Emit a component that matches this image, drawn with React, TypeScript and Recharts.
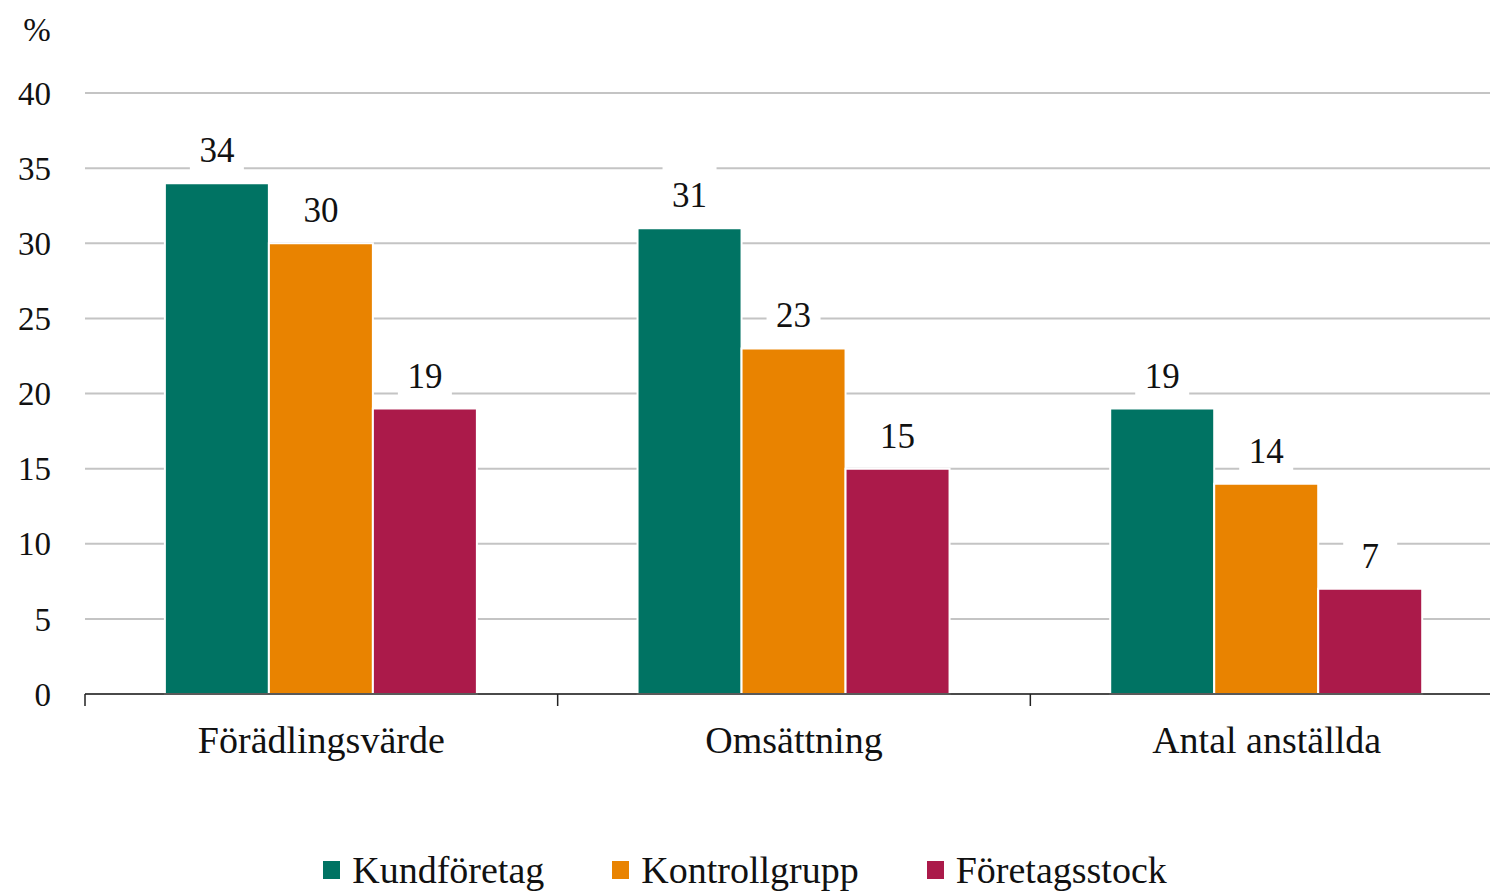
import React from "react";
import { BarChart, Bar, XAxis, YAxis, CartesianGrid, Legend, LabelList } from "recharts";

const categories = ["Förädlingsvärde", "Omsättning", "Antal anställda"];
const kundforetag = [34, 31, 19];
const kontrollgrupp = [30, 23, 14];
const foretagsstock = [19, 15, 7];
const yTicks = [0, 5, 10, 15, 20, 25, 30, 35, 40];

const seriesNames = ["Kundföretag", "Kontrollgrupp", "Företagsstock"];
const seriesKeys = ["k", "c", "f"];
const seriesColors = ["#007363", "#E98300", "#AB1A4A"];

const data = categories.map((name, i) => ({
  name,
  k: kundforetag[i],
  c: kontrollgrupp[i],
  f: foretagsstock[i],
}));

const FONT = "Liberation Serif, DejaVu Serif, serif";
const CHART_W = 1503;
const CHART_H = 892;
const Y_AXIS_W = 85;
const BAND = (CHART_W - Y_AXIS_W) / categories.length;

const ValueLabel = (props: any) => {
  const { x, y, width, value } = props;
  const cx = x + width / 2;
  return (
    <g>
      <rect x={cx - 27} y={y - 64} width={54} height={56} fill="#fff" />
      <text x={cx} y={y - 21} textAnchor="middle" fontSize={35} style={{ fontFamily: FONT }} fill="#111">
        {value}
      </text>
    </g>
  );
};

const CategoryTick = (props: any) => {
  const { x, y, payload } = props;
  const bx = x - BAND / 2;
  return (
    <g>
      <line x1={bx} y1={y} x2={bx} y2={y + 12} stroke="#222" strokeWidth={1.5} />
      <text x={x} y={y + 59} textAnchor="middle" fontSize={38} style={{ fontFamily: FONT }} fill="#111">
        {payload.value}
      </text>
    </g>
  );
};

const renderLegend = () => (
  <div
    style={{
      width: 1490,
      height: 50,
      display: "flex",
      justifyContent: "center",
      alignItems: "center",
      fontFamily: FONT,
      fontSize: 38,
      lineHeight: "50px",
      color: "#111",
    }}
  >
    {seriesNames.map((n, i) => (
      <div key={n} style={{ display: "flex", alignItems: "center", marginLeft: i === 0 ? 0 : 68 }}>
        <span style={{ width: 17, height: 18, background: seriesColors[i], display: "inline-block", marginRight: 12 }} />
        <span>{n}</span>
      </div>
    ))}
  </div>
);

export default function App() {
  return (
    <div
      style={{
        position: "fixed",
        left: 0,
        top: 0,
        width: 1490,
        height: 892,
        overflow: "hidden",
        background: "#fff",
        fontFamily: FONT,
      }}
    >
      <BarChart
        width={CHART_W}
        height={CHART_H}
        data={data}
        margin={{ top: 93, right: 0, left: 0, bottom: 0 }}
        barCategoryGap="16.9%"
        barGap={0}
        style={{ fontFamily: FONT }}
      >
        <CartesianGrid vertical={false} stroke="#c4c4c4" strokeWidth={2} />
        <XAxis
          dataKey="name"
          height={148}
          tickSize={0}
          tickMargin={0}
          tickLine={false}
          axisLine={{ stroke: "#222", strokeWidth: 1.5 }}
          tick={<CategoryTick />}
          interval={0}
        />
        <YAxis
          width={Y_AXIS_W}
          domain={[0, 40]}
          ticks={yTicks}
          interval={0}
          axisLine={false}
          tickLine={false}
          tickSize={0}
          tickMargin={34}
          tick={{ fontSize: 33, fontFamily: FONT, fill: "#111" }}
          label={(p: any) => (
            <text x={37} y={41} textAnchor="middle" fontSize={33} style={{ fontFamily: FONT }} fill="#111">
              %
            </text>
          )}
        />
        <Legend
          verticalAlign="bottom"
          content={renderLegend}
          wrapperStyle={{ left: 0, top: 845, width: 1490, height: 50 }}
        />
        {seriesKeys.map((k, i) => (
          <Bar
            key={k}
            dataKey={k}
            name={seriesNames[i]}
            fill={seriesColors[i]}
            stroke="#fff"
            strokeWidth={2}
            isAnimationActive={false}
          >
            <LabelList dataKey={k} content={<ValueLabel />} />
          </Bar>
        ))}
      </BarChart>
    </div>
  );
}
